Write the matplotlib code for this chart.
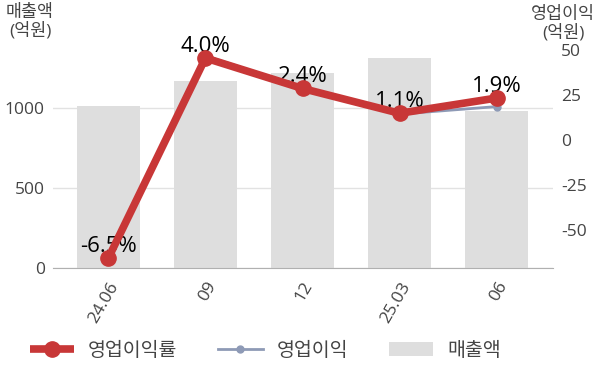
import matplotlib
matplotlib.use("Agg")
import matplotlib.pyplot as plt

plt.rcParams['font.family'] = ['Open Sans', 'Noto Sans CJK KR', 'DejaVu Sans']
plt.rcParams['axes.unicode_minus'] = False

# data
periods = ["24.06", "09", "12", "25.03", "06"]
revenue = [1012, 1170, 1220, 1312, 980]          # 매출액 (억원)
op_profit = [-65.8, 46.8, 29.3, 14.4, 18.6]      # 영업이익 (억원)
op_margin = [-6.5, 4.0, 2.4, 1.1, 1.9]           # 영업이익률 (%)

RED = "#c83737"
BLUE = "#8e9ab6"
BAR = "#dedede"
TXT = "#444444"

fig = plt.figure(figsize=(6.0, 3.83), dpi=100)
ax = fig.add_axes([53/600, 1-268/383, 500/600, 230/383])
ax2 = ax.twinx()
ax3 = ax.twinx()

x = range(len(periods))

bars = ax.bar(x, revenue, width=0.65, color=BAR, label="매출액", zorder=2)
ax.set_ylim(0, 1437.5)
ax.set_yticks([0, 500, 1000])
ax.set_xlim(-0.57, 4.58)
ax.grid(axis='y', color='#e2e2e2', linewidth=1, zorder=0)
ax.set_axisbelow(True)
for s in ['top', 'left', 'right']:
    ax.spines[s].set_visible(False)
ax.spines['bottom'].set_color('#b0b0b0')
ax.set_xticks(list(x))
ax.set_xticklabels(periods, rotation=60, ha='right', rotation_mode='anchor')
ax.tick_params(axis='x', length=0, pad=8, labelsize=12.5, labelcolor=TXT)
ax.tick_params(axis='y', length=0, pad=6, labelsize=12.5, labelcolor=TXT)

# operating profit on the right axis
blue, = ax2.plot(x, op_profit, color=BLUE, lw=2, marker='o', ms=5, label="영업이익", zorder=3)
ax2.set_ylim(-71.1, 56.7)
ax2.set_yticks([-50, -25, 0, 25, 50])
ax2.tick_params(axis='y', length=0, pad=6, labelsize=12.5, labelcolor=TXT)
for s in ax2.spines.values():
    s.set_visible(False)

# margin on its own hidden axis
red, = ax3.plot(x, op_margin, color=RED, lw=5.5, marker='o', ms=11, label="영업이익률",
                solid_capstyle='butt', zorder=4)
ax3.set_ylim(-7.02, 5.05)
ax3.axis('off')
for xi, m in zip(x, op_margin):
    ax3.annotate(f"{m:.1f}%", (xi, m), xytext=(0, 1), textcoords='offset points',
                 ha='center', va='bottom', fontsize=16, color='black')

fig.text(30/600, 1-22/383, "매출액\n(억원)", ha='center', va='center',
         fontsize=12.5, color=TXT, linespacing=1.1)
fig.text(563/600, 1-24/383, "영업이익\n(억원)", ha='center', va='center',
         fontsize=12.5, color=TXT, linespacing=1.1)

fig.legend(handles=[red, blue, bars], labels=["영업이익률", "영업이익", "매출액"],
           loc='center left', bbox_to_anchor=(12/600, 1-351/383), ncol=3, frameon=False,
           fontsize=14, handlelength=2.3, handletextpad=0.7, columnspacing=2.1,
           labelcolor=TXT)

fig.savefig("out.png", dpi=100)
